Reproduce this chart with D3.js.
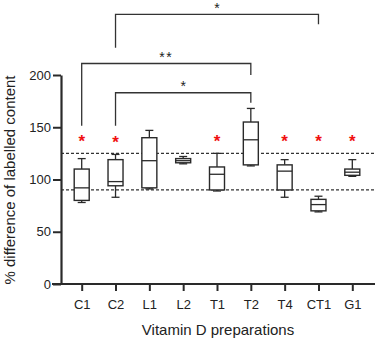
<!DOCTYPE html>
<html><head><meta charset="utf-8">
<script src="https://cdn.jsdelivr.net/npm/d3@7"></script>
<style>body{margin:0;background:#fff}svg{display:block}text{font-family:"Liberation Sans",Arial,sans-serif;fill:#222}</style>
</head><body>
<script>
const categories = ["C1","C2","L1","L2","T1","T2","T4","CT1","G1"];
const mins    = [78, 83, 91, 115, 89, 113, 83, 69, 103];
const q1s     = [80, 94, 92, 116, 90, 114, 90, 70, 104];
const medians = [92, 98, 118, 118, 105, 138, 108, 76, 107];
const q3s     = [110, 119, 140, 120, 112, 155, 114, 81, 110];
const maxs    = [120, 124, 147, 122, 125, 168, 119, 84, 119];
const yTicks = [0, 50, 100, 150, 200];
const refLines = [90, 125];
const redStarCats = ["C1","C2","T1","T4","CT1","G1"];
const redStarVals = [141, 140, 141, 141, 141, 141];
const cmpFrom = ["C2","C1","C2"];
const cmpTo   = ["CT1","T2","T2"];
const cmpLabel = ["*","**","*"];
const cmpBar  = [258, 211, 183];
const cmpLegFrom = [226, 151.5, 151.5];
const cmpLegTo   = [248.5, 200, 173.5];

const W = 378, H = 339;
const svg = d3.select("body").append("svg").attr("width", W).attr("height", H);
const y = d3.scaleLinear().domain([0, 200]).range([284, 75]);
const x = d3.scalePoint().domain(categories).range([81.7, 352.3]);
const ink = "#2a2a2a";

// reference dashed lines
svg.selectAll(".ref").data(refLines).join("line")
  .attr("x1", 61).attr("x2", 375).attr("y1", d => y(d)).attr("y2", d => y(d))
  .attr("stroke", "#333").attr("stroke-width", 1.2).attr("stroke-dasharray", "3,2");

// boxes
const data = categories.map((c, i) => ({c, min: mins[i], q1: q1s[i], med: medians[i], q3: q3s[i], max: maxs[i]}));
const g = svg.selectAll(".box").data(data).join("g").attr("transform", d => `translate(${x(d.c)},0)`);
const bw = 15, cw = 8;
g.append("line").attr("y1", d => y(d.max)).attr("y2", d => y(d.q3)).attr("stroke", ink).attr("stroke-width", 1.3);
g.append("line").attr("y1", d => y(d.q1)).attr("y2", d => y(d.min)).attr("stroke", ink).attr("stroke-width", 1.3);
g.append("line").attr("x1", -cw/2).attr("x2", cw/2).attr("y1", d => y(d.max)).attr("y2", d => y(d.max)).attr("stroke", ink).attr("stroke-width", 1.3);
g.append("line").attr("x1", -cw/2).attr("x2", cw/2).attr("y1", d => y(d.min)).attr("y2", d => y(d.min)).attr("stroke", ink).attr("stroke-width", 1.3);
g.append("rect").attr("x", -bw/2).attr("width", bw).attr("y", d => y(d.q3)).attr("height", d => y(d.q1) - y(d.q3))
  .attr("fill", "#fff").attr("stroke", ink).attr("stroke-width", 1.4);
g.append("line").attr("x1", -bw/2).attr("x2", bw/2).attr("y1", d => y(d.med)).attr("y2", d => y(d.med)).attr("stroke", ink).attr("stroke-width", 1.3);

// red stars
svg.selectAll(".rs").data(redStarCats).join("text")
  .attr("x", d => x(d)).attr("y", (d, i) => y(redStarVals[i]) + 10)
  .attr("text-anchor", "middle").style("fill", "#f01010").style("font-size", "17px").style("font-weight", "bold")
  .text("*");

// comparison brackets
cmpFrom.forEach((f, i) => {
  const x1 = x(f), x2 = x(cmpTo[i]), yb = y(cmpBar[i]);
  svg.append("path")
    .attr("d", `M${x1},${y(cmpLegFrom[i])}V${yb}H${x2}V${y(cmpLegTo[i])}`)
    .attr("fill", "none").attr("stroke", "#333").attr("stroke-width", 1.3);
  svg.append("text").attr("x", (x1 + x2) / 2).attr("y", yb - 9.7 + 8)
    .attr("text-anchor", "middle").style("font-size", "14px").style("letter-spacing", cmpLabel[i].length > 1 ? "1.5px" : "0")
    .text(cmpLabel[i]);
});

// axes
const ya = svg.append("g").attr("transform", "translate(61,0)")
  .call(d3.axisLeft(y).tickValues(yTicks).tickSize(8).tickPadding(2).tickSizeOuter(0));
ya.select(".domain").attr("stroke", ink).attr("stroke-width", 2.2);
ya.selectAll(".tick line").attr("stroke", ink).attr("stroke-width", 2);
ya.selectAll(".tick text").style("font-size", "13px").style("fill", "#222");

const xa = svg.append("g").attr("transform", "translate(0,284)")
  .call(d3.axisBottom(x).tickSize(7).tickPadding(9).tickSizeOuter(0));
xa.select(".domain").attr("d", "M52,0H375").attr("stroke", ink).attr("stroke-width", 2.2);
xa.selectAll(".tick line").attr("stroke", ink).attr("stroke-width", 2);
xa.selectAll(".tick text").style("font-size", "13px").style("fill", "#222");

// titles
svg.append("text").attr("x", 218).attr("y", 335).attr("text-anchor", "middle").style("font-size", "15px")
  .text("Vitamin D preparations");
svg.append("text").attr("transform", "translate(15,180) rotate(-90)").attr("text-anchor", "middle").style("font-size", "15px")
  .text("% difference of labelled content");
</script>
</body></html>
